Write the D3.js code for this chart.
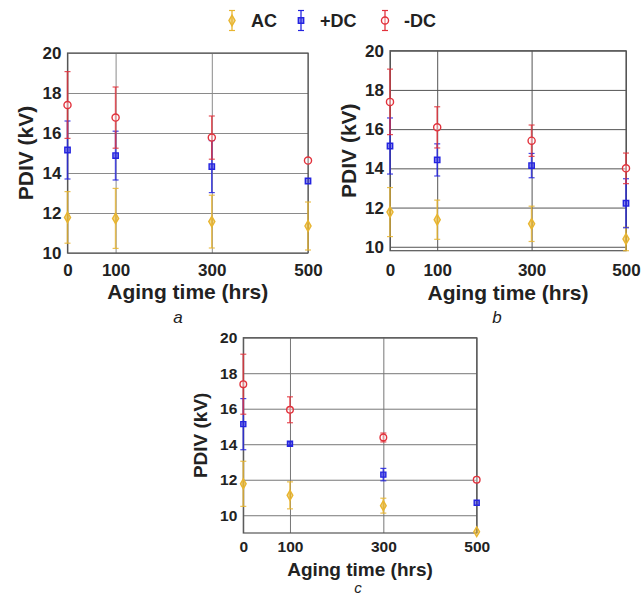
<!DOCTYPE html>
<html>
<head>
<meta charset="utf-8">
<script src="https://cdn.jsdelivr.net/npm/d3@7"></script>
<style>
  body { margin: 0; background: #fff; }
  svg { display: block; font-family: "Liberation Sans", Arial, sans-serif; }
</style>
</head>
<body>
<div id="chart"></div>
<script>
// aging times (x) and the tick labels shown on both axes
const times = [0, 100, 300, 500];
const yTicks = [10, 12, 14, 16, 18, 20];
const seriesNames = ["AC", "+DC", "-DC"];
const seriesColors = ["#e8b530", "#2424e0", "#e2323c"];

// panel a
const acMeanA = [11.78, 11.73, 11.57, 11.35];
const acErrA = [1.29, 1.5, 1.32, 1.2];
const pdcMeanA = [15.15, 14.87, 14.32, 13.6];
const pdcErrA = [1.45, 1.22, 1.3, 0];
const ndcMeanA = [17.4, 16.77, 15.77, 14.62];
const ndcErrA = [1.67, 1.53, 1.08, 0];

// panel b
const acMeanB = [11.77, 11.38, 11.17, 10.4];
const acErrB = [1.25, 1.0, 0.9, 0.6];
const pdcMeanB = [15.14, 14.43, 14.14, 12.22];
const pdcErrB = [1.43, 0.82, 0.62, 1.25];
const ndcMeanB = [17.39, 16.09, 15.41, 14.0];
const ndcErrB = [1.67, 1.05, 0.8, 0.78];

// panel c
const acMeanC = [11.77, 11.12, 10.54, 9.07];
const acErrC = [1.27, 0.76, 0.42, 0];
const pdcMeanC = [15.13, 14.03, 12.29, 10.7];
const pdcErrC = [1.44, 0.1, 0.35, 0];
const ndcMeanC = [17.38, 15.94, 14.38, 12.0];
const ndcErrC = [1.69, 0.73, 0.25, 0];

const W = 641, H = 598;
const svg = d3.select("#chart").append("svg")
  .attr("width", W).attr("height", H);

function markerPath(i, s) {
  if (i === 0) return d3.symbol(d3.symbolDiamond, s * s * 0.9)();
  if (i === 1) return d3.symbol(d3.symbolSquare, s * s * 0.8)();
  return d3.symbol(d3.symbolCircle, s * s * 1.1)();
}

function drawPanel(p) {
  const g = svg.append("g");
  const x = d3.scaleLinear().domain([0, 500]).range([p.left, p.right]);
  const y = d3.scaleLinear().domain([p.yMin, 20]).range([p.bottom, p.top]);
  const w = p.right - p.left, h = p.bottom - p.top;

  // horizontal grid + y labels
  const ya = g.append("g").attr("transform", `translate(${p.left},0)`)
    .call(d3.axisLeft(y).tickValues(yTicks).tickSize(-w).tickPadding(p.yPad));
  ya.select(".domain").remove();
  ya.selectAll("line").attr("stroke", p.grid).attr("stroke-width", 1);
  ya.selectAll("text").attr("font-size", p.tickFont).attr("font-weight", "bold")
    .attr("fill", "#222");

  // vertical grid + x labels
  const xa = g.append("g").attr("transform", `translate(0,${p.bottom})`)
    .call(d3.axisBottom(x).tickValues(times).tickSize(-h).tickPadding(p.xPad));
  xa.select(".domain").remove();
  xa.selectAll("line").attr("stroke", p.grid).attr("stroke-width", 1);
  xa.selectAll("text").attr("font-size", p.tickFont).attr("font-weight", "bold")
    .attr("fill", "#222");

  g.append("rect")
    .attr("x", p.left).attr("y", p.top).attr("width", w).attr("height", h)
    .attr("fill", "none").attr("stroke", "#555").attr("stroke-width", 1.2);

  // error bars and markers
  p.series.forEach((s, i) => {
    const col = seriesColors[i];
    const sg = g.append("g").attr("stroke", col).attr("fill", "none");
    times.forEach((t, k) => {
      const cx = x(t), m = s.mean[k], e = s.err[k];
      if (e > 0) {
        const lo = y(Math.max(m - e, p.yMin)), hi = y(m + e);
        sg.append("line").attr("x1", cx).attr("x2", cx).attr("y1", lo).attr("y2", hi)
          .attr("stroke-width", 1.6).attr("stroke-opacity", 0.8);
        [m - e, m + e].forEach(v => {
          if (v < p.yMin) return;
          sg.append("line").attr("x1", cx - 3).attr("x2", cx + 3)
            .attr("y1", y(v)).attr("y2", y(v)).attr("stroke-width", 1.2)
            .attr("stroke-opacity", 0.85);
        });
      }
      sg.append("path").attr("d", markerPath(i, p.mk))
        .attr("transform", `translate(${cx},${y(m)})`)
        .attr("stroke-width", 1.4)
        .attr("fill", i === 2 ? "rgba(255,255,255,0.4)" : col)
        .attr("fill-opacity", i === 2 ? 1 : 0.55);
    });
  });

  // axis titles and panel letter
  g.append("text")
    .attr("transform", `translate(${p.yTitleX},${(p.top + p.bottom) / 2}) rotate(-90)`)
    .attr("text-anchor", "middle").attr("font-size", p.titleFont)
    .attr("font-weight", "bold").attr("fill", "#222").text("PDIV (kV)");
  g.append("text").attr("x", (p.left + p.right) / 2).attr("y", p.xTitleY)
    .attr("text-anchor", "middle").attr("font-size", p.titleFont)
    .attr("font-weight", "bold").attr("fill", "#222").text("Aging time (hrs)");
  g.append("text").attr("x", p.letterX).attr("y", p.letterY)
    .attr("text-anchor", "middle").attr("font-size", p.letterFont)
    .attr("font-style", "italic").attr("fill", "#222").text(p.letter);
}

drawPanel({
  left: 67.5, right: 308, top: 53, bottom: 253, yMin: 10,
  grid: "#8a8a8a", tickFont: 17, titleFont: 21, letterFont: 17, mk: 6,
  yPad: 6, xPad: 11, yTitleX: 33, xTitleY: 299, letter: "a", letterX: 178, letterY: 323,
  series: [
    { mean: acMeanA, err: acErrA },
    { mean: pdcMeanA, err: pdcErrA },
    { mean: ndcMeanA, err: ndcErrA }
  ]
});

drawPanel({
  left: 390, right: 626, top: 50.7, bottom: 250.7, yMin: 9.8,
  grid: "#555", tickFont: 17, titleFont: 21, letterFont: 17, mk: 6,
  yPad: 6, xPad: 13, yTitleX: 356, xTitleY: 300, letter: "b", letterX: 497, letterY: 323,
  series: [
    { mean: acMeanB, err: acErrB },
    { mean: pdcMeanB, err: pdcErrB },
    { mean: ndcMeanB, err: ndcErrB }
  ]
});

drawPanel({
  left: 243.3, right: 476.7, top: 337.7, bottom: 533, yMin: 9,
  grid: "#777", tickFont: 15.5, titleFont: 19, letterFont: 15, mk: 5.6,
  yPad: 6, xPad: 8, yTitleX: 207, xTitleY: 576, letter: "c", letterX: 358, letterY: 593,
  series: [
    { mean: acMeanC, err: acErrC },
    { mean: pdcMeanC, err: pdcErrC },
    { mean: ndcMeanC, err: ndcErrC }
  ]
});

// legend
const legendX = [232, 301, 385];
const legend = svg.append("g");
seriesNames.forEach((name, i) => {
  const lx = legendX[i], cy = 20.5, col = seriesColors[i];
  const lg = legend.append("g").attr("stroke", col).attr("fill", "none");
  lg.append("line").attr("x1", lx).attr("x2", lx).attr("y1", cy - 10).attr("y2", cy + 10)
    .attr("stroke-width", 1.6).attr("stroke-opacity", 0.8);
  [cy - 10, cy + 10].forEach(v => lg.append("line")
    .attr("x1", lx - 3).attr("x2", lx + 3).attr("y1", v).attr("y2", v).attr("stroke-width", 1.2));
  lg.append("path").attr("d", markerPath(i, 6)).attr("transform", `translate(${lx},${cy})`)
    .attr("stroke-width", 1.4)
    .attr("fill", i === 2 ? "rgba(255,255,255,0.4)" : col)
    .attr("fill-opacity", i === 2 ? 1 : 0.55);
  legend.append("text").attr("x", lx + 19).attr("y", cy + 6.5)
    .attr("font-size", 18).attr("font-weight", "bold").attr("fill", "#222").text(name);
});
</script>
</body>
</html>
